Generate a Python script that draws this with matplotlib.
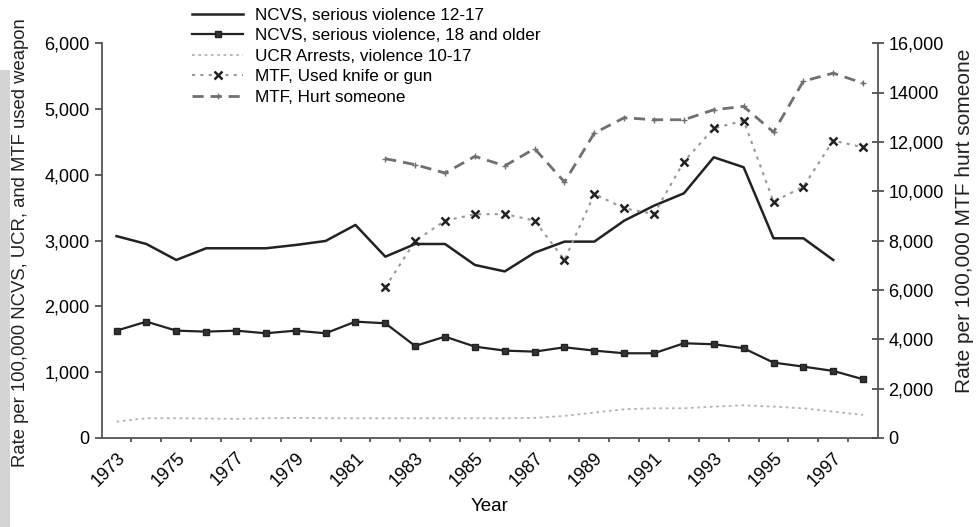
import matplotlib
matplotlib.use("Agg")
import matplotlib.pyplot as plt
from matplotlib.patches import Rectangle
from matplotlib.ticker import FuncFormatter, MultipleLocator

plt.rcParams['font.family'] = ['Liberation Sans', 'DejaVu Sans']

years = list(range(1973, 1999))
ncvs_youth = [3070, 2950, 2707, 2885, 2885, 2885, 2935, 2996, 3240, 2757, 2950, 2950,
              2631, 2533, 2818, 2986, 2986, 3305, 3533, 3721, 4269, 4117, 3037, 3037, 2707]
ncvs_adult = [1632, 1769, 1632, 1617, 1632, 1592, 1632, 1592, 1769, 1744, 1399, 1541,
              1389, 1328, 1313, 1379, 1328, 1288, 1288, 1440, 1425, 1364, 1146, 1085, 1019, 893]
ucr_arrests = [248, 300, 300, 295, 290, 300, 305, 300, 300, 300, 300, 300,
               300, 300, 305, 335, 385, 436, 451, 451, 476, 497, 476, 451, 400, 350]
mtf_years = list(range(1982, 1999))
mtf_weapon = [2292, 2996, 3305, 3402, 3405, 3305, 2707, 3711, 3493, 3407, 4203, 4710,
              4826, 3594, 3822, 4522, 4421]
mtf_hurt = [11328, 11085, 10745, 11421, 11037, 11733, 10380, 12365, 12988, 12907, 12907,
            13312, 13446, 12405, 14471, 14796, 14390]
label_years = list(range(1973, 1998, 2))

fig = plt.figure(figsize=(9.77, 5.27), dpi=100)
fig.patches.append(Rectangle((0, 0), 10 / 977, 1 - 70 / 527, transform=fig.transFigure,
                             facecolor='#d4d4d4', edgecolor='none', zorder=0))
ax = fig.add_axes([0.104, 0.169, 0.7947, 0.7485])
ax2 = ax.twinx()

l1, = ax.plot(years[:len(ncvs_youth)], ncvs_youth, color='#222222', lw=1.8,
              label='NCVS, serious violence 12-17')
l2, = ax.plot(years, ncvs_adult, color='#222222', lw=1.6, marker='s', markersize=4,
              markerfacecolor='#333333', markeredgecolor='#222222',
              label='NCVS, serious violence, 18 and older')
l3, = ax.plot(years, ucr_arrests, color='#b4b4b4', lw=1.3, ls=(0, (1.5, 2)),
              label='UCR Arrests, violence 10-17')
l4, = ax.plot(mtf_years, mtf_weapon, color='#999999', lw=1.5, ls=(0, (1.5, 2.5)),
              marker='x', markersize=6, markeredgecolor='#222222', markeredgewidth=1.8,
              label='MTF, Used knife or gun')
l5, = ax2.plot(mtf_years, mtf_hurt, color='#707070', lw=2.0, ls=(0, (4, 2.5)),
               marker='+', markersize=4, markeredgecolor='#707070',
               label='MTF, Hurt someone')

ax.set_xlim(1972.5, 1998.5)
ax.set_ylim(0, 6000)
ax2.set_ylim(0, 16000)

ax.set_xticks(label_years)
ax.set_xticklabels([str(y) for y in label_years], rotation=45, ha='right',
                   rotation_mode='anchor', fontsize=13)
ax.tick_params(axis='x', which='major', length=0, pad=8)
ax.set_xticks([y + 0.5 for y in years[:-1]], minor=True)
ax.tick_params(axis='x', which='minor', length=3, width=1.2, direction='out', color='#444444')

ax.yaxis.set_major_locator(MultipleLocator(1000))
ax.yaxis.set_major_formatter(FuncFormatter(lambda v, p: f'{int(v):,}'))
ax.tick_params(axis='y', length=5, width=1.2, direction='out', labelsize=13, color='#444444')

right_labels = {0: '0', 2000: '2,000', 4000: '4,000', 6000: '6,000', 8000: '8,000',
                10000: '10,000', 12000: '12,000', 14000: '14000', 16000: '16,000'}
ax2.yaxis.set_major_locator(MultipleLocator(2000))
ax2.yaxis.set_major_formatter(FuncFormatter(lambda v, p: right_labels.get(int(round(v)), '')))
ax2.tick_params(axis='y', length=8, width=1.2, direction='inout', labelsize=13, color='#444444')

for a in (ax, ax2):
    a.spines['top'].set_visible(False)
    for s in ('left', 'right', 'bottom'):
        a.spines[s].set_color('#555555')
        a.spines[s].set_linewidth(1.3)
ax.spines['right'].set_visible(False)
ax2.spines['left'].set_visible(False)
ax2.spines['bottom'].set_visible(False)

ax.set_xlabel('Year', fontsize=13.5, labelpad=6)
fig.text(21 / 977, 1 - 243 / 527, 'Rate per 100,000 NCVS, UCR, and MTF used weapon',
         rotation=90, ha='center', va='center', fontsize=13.3, color='#222222')
fig.text(965 / 977, 1 - 221 / 527, 'Rate per 100,000 MTF hurt someone',
         rotation=90, ha='center', va='center', fontsize=15, color='#222222')

fig.legend(handles=[l1, l2, l3, l4, l5], loc='upper left',
           bbox_to_anchor=(192 / 977, 1 - 8 / 527), frameon=False, fontsize=12.3,
           handlelength=3.0, handletextpad=0.7, labelspacing=0.32, borderaxespad=0,
           borderpad=0)

fig.savefig('out.png', dpi=100)
